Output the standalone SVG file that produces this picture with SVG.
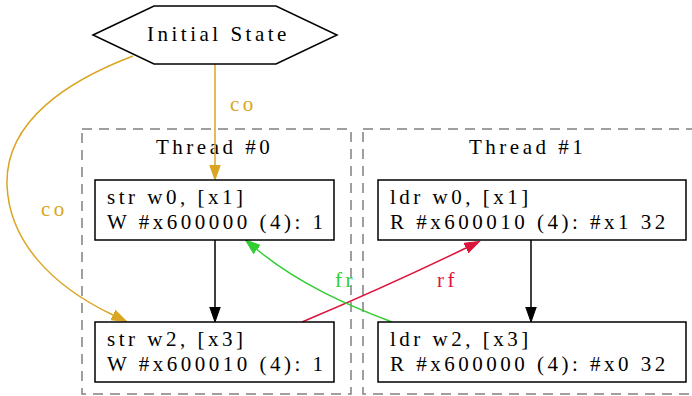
<svg xmlns="http://www.w3.org/2000/svg" width="692" height="396" viewBox="0 0 692 396">
  <style>
    text { font-family: "Liberation Serif", "Times New Roman", serif; font-size: 21px; letter-spacing: 3.5px; fill: #000; }
    .cluster { fill: none; stroke: #808080; stroke-width: 1.5; stroke-dasharray: 10 7; }
    .node { fill: #fff; stroke: #000; stroke-width: 1.5; }
    .edge { fill: none; stroke-width: 1.5; }
    .co { stroke: #daa520; }
    .po { stroke: #000; }
    .rf { stroke: #dc143c; }
    .fr { stroke: #32cd32; }
    text.co-l { fill: #daa520; }
    text.rf-l { fill: #dc143c; }
    text.fr-l { fill: #32cd32; }
  </style>
  <defs>
    <marker id="ah-co" markerUnits="userSpaceOnUse" markerWidth="16" markerHeight="12" viewBox="0 -6 16 12" refX="0" refY="0" orient="auto">
      <path d="M0,-5.25 L15,0 L0,5.25 z" fill="#daa520" stroke="#daa520"/>
    </marker>
    <marker id="ah-po" markerUnits="userSpaceOnUse" markerWidth="16" markerHeight="12" viewBox="0 -6 16 12" refX="0" refY="0" orient="auto">
      <path d="M0,-5.25 L15,0 L0,5.25 z" fill="#000" stroke="#000"/>
    </marker>
    <marker id="ah-rf" markerUnits="userSpaceOnUse" markerWidth="16" markerHeight="12" viewBox="0 -6 16 12" refX="0" refY="0" orient="auto">
      <path d="M0,-5.25 L15,0 L0,5.25 z" fill="#dc143c" stroke="#dc143c"/>
    </marker>
    <marker id="ah-fr" markerUnits="userSpaceOnUse" markerWidth="16" markerHeight="12" viewBox="0 -6 16 12" refX="0" refY="0" orient="auto">
      <path d="M0,-5.25 L15,0 L0,5.25 z" fill="#32cd32" stroke="#32cd32"/>
    </marker>
  </defs>

  <!-- thread clusters -->
  <g id="cluster-thread0">
    <rect class="cluster" x="82" y="129" width="269" height="265"/>
    <text x="156" y="154">Thread #0</text>
  </g>
  <g id="cluster-thread1">
    <rect class="cluster" x="363" y="129" width="345" height="265"/>
    <text x="469" y="154">Thread #1</text>
  </g>

  <!-- connectors -->
  <g id="edges">
    <path class="edge co" d="M215,64 L215,165" marker-end="url(#ah-co)"/>
    <text class="co-l" x="230" y="111">co</text>
    <path class="edge co" d="M133,56 C70,80 5,120 7,185 C9,240 50,285 113,315" marker-end="url(#ah-co)"/>
    <text class="co-l" x="41" y="216">co</text>
    <path class="edge po" d="M215,240 L215,307" marker-end="url(#ah-po)"/>
    <path class="edge po" d="M531,240 L531,307" marker-end="url(#ah-po)"/>
    <path class="edge rf" d="M302,322 C340,306 400,280 466,248" marker-end="url(#ah-rf)"/>
    <text class="rf-l" x="437" y="287">rf</text>
    <path class="edge fr" d="M392,322 C350,306 300,285 257,249.5" marker-end="url(#ah-fr)"/>
    <text class="fr-l" x="335" y="287">fr</text>
  </g>

  <!-- nodes -->
  <g id="init">
    <polygon class="node" points="93,35 154,6 276,6 337,35 276,64 154,64"/>
    <text x="147" y="41">Initial State</text>
  </g>
  <g id="t0-a">
    <rect class="node" x="95" y="180" width="239" height="60"/>
    <text x="107" y="204">str w0, [x1]</text>
    <text x="107" y="229">W #x600000 (4): 1</text>
  </g>
  <g id="t0-b">
    <rect class="node" x="95" y="322" width="239" height="60"/>
    <text x="107" y="346">str w2, [x3]</text>
    <text x="107" y="371">W #x600010 (4): 1</text>
  </g>
  <g id="t1-a">
    <rect class="node" x="378" y="180" width="308" height="60"/>
    <text x="390" y="204">ldr w0, [x1]</text>
    <text x="390" y="229">R #x600010 (4): #x1 32</text>
  </g>
  <g id="t1-b">
    <rect class="node" x="378" y="322" width="308" height="60"/>
    <text x="390" y="346">ldr w2, [x3]</text>
    <text x="390" y="371">R #x600000 (4): #x0 32</text>
  </g>
</svg>
